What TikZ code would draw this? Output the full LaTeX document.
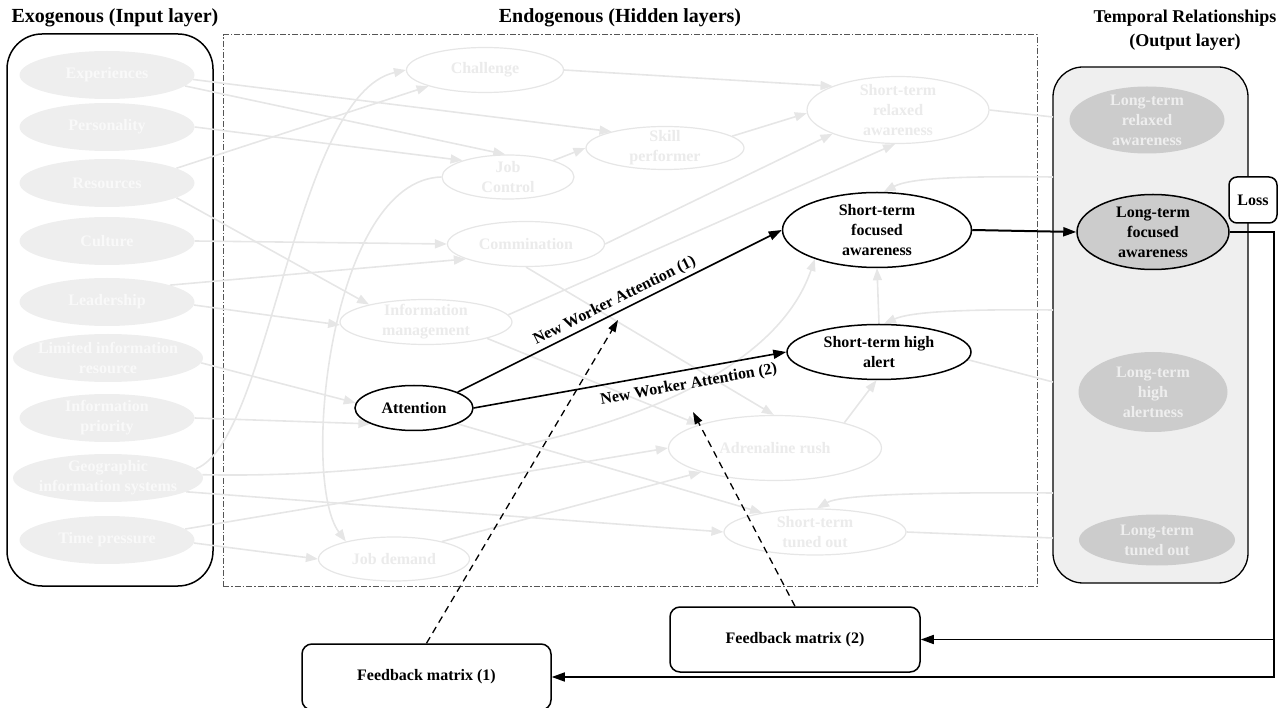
\documentclass[tikz,border=0pt]{standalone}
\usepackage{fontspec}
\setmainfont{Liberation Serif}
\usetikzlibrary{shapes.geometric,arrows.meta,backgrounds}
\definecolor{fadeline}{HTML}{E6E6E6}
\definecolor{fadetext}{HTML}{EBEBEB}
\definecolor{infill}{HTML}{EEEEEE}
\definecolor{intext}{HTML}{F9F9F9}
\definecolor{outfill}{HTML}{CCCCCC}
\definecolor{outtext}{HTML}{EEEEEE}
\definecolor{boxfill}{HTML}{EFEFEF}
\definecolor{dashgray}{HTML}{555555}
\begin{document}
\begin{tikzpicture}[x=1pt,y=-1pt,
 every node/.style={font=\fontsize{16}{20}\selectfont\bfseries, align=center, inner sep=0pt},
 ell/.style={ellipse, inner sep=-60pt},
 inell/.style={ell, fill=infill, text=intext, minimum width=175pt, minimum height=48pt},
 hidell/.style={ell, draw=fadeline, line width=1.2pt, fill=white, text=fadetext},
 keyell/.style={ell, draw=black, line width=1.5pt, fill=white, text=black},
 outell/.style={ell, fill=outfill, text=outtext},
 fedge/.style={draw=fadeline, line width=1.6pt, -{Triangle[length=12pt,width=9pt]}},
 fline/.style={draw=fadeline, line width=1.6pt},
 kedge/.style={draw=black, line width=1.6pt, -{Triangle[length=13pt,width=9pt]}},
 dedge/.style={draw=black, line width=1.3pt, dash pattern=on 7pt off 5pt, -{Triangle[length=12pt,width=8pt]}},
 fbox/.style={draw=black, line width=1.5pt, rounded corners=10pt, fill=white},
 heading/.style={font=\fontsize{20}{24}\selectfont\bfseries},
 container/.style={line width=1.5pt},
]
\useasboundingbox (0,0) rectangle (1278,708);

% headings
\node[heading] (hin) at (115,18) {Exogenous (Input layer)};
\node[heading] (hhid) at (620,18) {Endogenous (Hidden layers)};
\node[heading, font=\fontsize{18}{24}\selectfont\bfseries] (hout) at (1185,30) {Temporal Relationships\\(Output layer)};

% input layer
\node[inell] (exp) at (107,75) {Experiences};
\node[inell] (pers) at (107,127) {Personality};
\node[inell] (res) at (107,183) {Resources};
\node[inell] (cult) at (107,241) {Culture};
\node[inell] (lead) at (107,302) {Leadership};
\node[inell, minimum width=190pt] (lir) at (108,358) {Limited information\\resource};
\node[inell] (ip) at (107,418) {Information\\priority};
\node[inell, minimum width=190pt] (gis) at (108,478) {Geographic\\information systems};
\node[inell] (tp) at (107,540) {Time pressure};

% hidden layers
\node[hidell, minimum width=157pt, minimum height=45pt] (chal) at (485,70) {Challenge};
\node[hidell, minimum width=132pt, minimum height=44pt] (jc) at (508,177) {Job\\Control};
\node[hidell, minimum width=157pt, minimum height=45pt] (comm) at (526,244) {Commination};
\node[hidell, minimum width=158pt, minimum height=43pt] (skill) at (665,148) {Skill\\performer};
\node[hidell, minimum width=182pt, minimum height=67pt] (stra) at (898,110) {Short-term\\relaxed\\awareness};
\node[keyell, minimum width=189pt, minimum height=75pt] (stfa) at (877,230) {Short-term\\focused\\awareness};
\node[hidell, minimum width=172pt, minimum height=45pt] (im) at (426,322) {Information\\management};
\node[keyell, minimum width=118pt, minimum height=45pt] (att) at (414,408) {Attention};
\node[hidell, minimum width=151pt, minimum height=44pt] (jd) at (394,559) {Job demand};
\node[keyell, minimum width=184pt, minimum height=55pt] (stha) at (879,352) {Short-term high\\alert};
\node[hidell, minimum width=213pt, minimum height=65pt] (ar) at (775,448) {Adrenaline rush};
\node[hidell, minimum width=182pt, minimum height=46pt] (sto) at (815,532) {Short-term\\tuned out};

% output layer
\node[outell, minimum width=155pt, minimum height=67pt] (ltra) at (1147,120) {Long-term\\relaxed\\awareness};
\node[keyell, fill=outfill, minimum width=152pt, minimum height=75pt] (ltfa) at (1153,232) {Long-term\\focused\\awareness};
\node[outell, minimum width=149pt, minimum height=80pt] (ltha) at (1153,392) {Long-term\\high\\alertness};
\node[outell, minimum width=156pt, minimum height=51pt] (ltto) at (1157,540) {Long-term\\tuned out};

\node[fbox, rounded corners=8pt, minimum width=48pt, minimum height=46pt] (loss) at (1253,200) {Loss};
\node[fbox, minimum width=250pt, minimum height=65pt] (fm2) at (795,639.5) {Feedback matrix (2)};
\node[fbox, minimum width=249pt, minimum height=66pt] (fm1) at (426.5,677) {Feedback matrix (1)};

% free ends
\coordinate (o1) at (1053,117);
\coordinate (o2) at (1053,177);
\coordinate (o3) at (1053,310);
\coordinate (o4) at (1053,382);
\coordinate (o5) at (1053,493);
\coordinate (o6) at (1053,538);
\coordinate (d1) at (618,320);
\coordinate (d2) at (693,412);
\coordinate (bend) at (1274,232);

\begin{scope}[on background layer]
 \node[container, draw=black, rounded corners=35pt, minimum width=206pt, minimum height=552pt] (inbox) at (110,310) {};
 \node[draw=dashgray, line width=1pt, dash pattern=on 6pt off 2pt on 1.5pt off 2pt, minimum width=814pt, minimum height=551pt] (hidbox) at (630,310.5) {};
 \node[draw=black, line width=1.3pt, fill=boxfill, rounded corners=30pt, minimum width=195pt, minimum height=516pt] (outbox) at (1150.5,325) {};

 \draw[fedge] (exp.-3) -- (skill.163);
 \draw[fedge] (exp.-8) -- (jc.97);
 \draw[fedge] (pers.east) -- (jc.160);
 \draw[fedge] (res.12) -- (chal.196);
 \draw[fedge] (res.-12) -- (im.163);
 \draw[fedge] (cult.east) -- (comm.west);
 \draw[fedge] (lead.15) -- (comm.194);
 \draw[fedge] (lead.-2) -- (im.182);
 \draw[fedge] (lir.-3) -- (att.175);
 \draw[fedge] (ip.east) -- (att.200);
 \draw[fedge] (gis.6) .. controls (270,440) and (295,95) .. (chal.west);
 \draw[fedge] (gis.2) .. controls (450,480) and (760,420) .. (stfa.205);
 \draw[fedge] (gis.-10) -- (sto.west);
 \draw[fedge] (tp.8) -- (ar.west);
 \draw[fedge] (tp.-2) -- (jd.west);
 \draw[fedge] (jd.20) -- (ar.198);
 \draw[fedge] (jc.west) .. controls (330,180) and (300,480) .. (jd.160);
 \draw[fedge] (chal.east) -- (stra.160);
 \draw[fedge] (skill.10) -- (stra.182);
 \draw[fedge] (jc.20) -- (skill.west);
 \draw[fedge] (comm.east) -- (stra.200);
 \draw[fedge] (im.5) -- (stra.265);
 \draw[fedge] (comm.south) -- (ar.92);
 \draw[fedge] (im.-15) -- (ar.163);
 \draw[fedge] (att.-20) -- (sto.160);
 \draw[fedge] (ar.20) -- (stha.-95);
 \draw[fedge] (stha.north) -- (stfa.south);
 \draw[fline] (stra.east) -- (o1);
 \draw[fedge] (o2) .. controls (960,176) and (910,178) .. (stfa.80);
 \draw[fedge] (o3) .. controls (960,309) and (910,312) .. (stha.80);
 \draw[fline] (stha.-5) -- (o4);
 \draw[fedge] (o5) .. controls (920,492) and (840,495) .. (sto.85);
 \draw[fline] (sto.east) -- (o6);
\end{scope}

% key connectors
\draw[kedge] (att.20) -- node[sloped, above=3pt] {New Worker Attention (1)} (stfa.west);
\draw[kedge] (att.east) -- node[sloped, below=7pt, pos=0.68] {New Worker Attention (2)} (stha.west);
\draw[kedge, line width=2pt] (stfa.east) -- (ltfa.west);
\draw[dedge] (fm1.north) -- (d1);
\draw[dedge] (fm2.north) -- (d2);
\draw[kedge] (ltfa.east) -- (bend) |- (fm1.east);
\draw[kedge] (bend |- fm2.east) -- (fm2.east);
\end{tikzpicture}
\end{document}
